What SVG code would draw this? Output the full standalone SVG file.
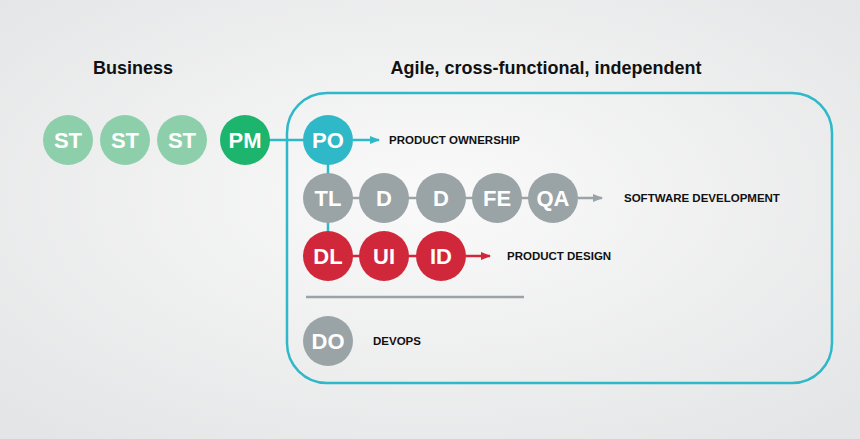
<svg xmlns="http://www.w3.org/2000/svg" width="860" height="439" viewBox="0 0 860 439">
<defs>
<radialGradient id="bg" cx="0.5" cy="0.45" r="0.7"><stop offset="0" stop-color="#fafafa"/><stop offset="1" stop-color="#e4e5e6"/></radialGradient>
<marker id="at" markerWidth="10" markerHeight="10" refX="9" refY="5" orient="auto" markerUnits="userSpaceOnUse"><path d="M0,1 L10,5 L0,9 Z" fill="#2fb8c8"/></marker>
<marker id="ag" markerWidth="10" markerHeight="10" refX="9" refY="5" orient="auto" markerUnits="userSpaceOnUse"><path d="M0,1 L10,5 L0,9 Z" fill="#9aa3a6"/></marker>
<marker id="ar" markerWidth="10" markerHeight="10" refX="9" refY="5" orient="auto" markerUnits="userSpaceOnUse"><path d="M0,1 L10,5 L0,9 Z" fill="#d0283a"/></marker>
<style>
.n text{font-family:"Liberation Sans",Arial,sans-serif;font-weight:bold;font-size:22px;fill:#fff;text-anchor:middle}
.st circle{fill:#8ecfab}.pm circle{fill:#1db46e}.po circle{fill:#2fb8c8}.g circle{fill:#9aa3a6}.r circle{fill:#d0283a}
.lbl{font-family:"Liberation Sans",Arial,sans-serif;font-weight:bold;font-size:11.5px;fill:#111}
.h{font-family:"Liberation Sans",Arial,sans-serif;font-weight:bold;font-size:18px;fill:#111;text-anchor:middle}
</style>
</defs>
<rect width="860" height="439" fill="url(#bg)"/>
<text class="h" x="133" y="74">Business</text>
<text class="h" x="546" y="74">Agile, cross-functional, independent</text>
<rect x="287" y="93" width="545" height="290" rx="40" fill="none" stroke="#2fb8c8" stroke-width="2.5"/>
<line x1="306" y1="297" x2="524" y2="297" stroke="#9aa3a6" stroke-width="2.5"/>
<g id="connectors" stroke-width="2.5" fill="none">
<line x1="245" y1="140" x2="328" y2="140" stroke="#2fb8c8"/>
<line x1="328" y1="140" x2="328" y2="256" stroke="#2fb8c8"/>
<line x1="353" y1="140" x2="379" y2="140" stroke="#2fb8c8" marker-end="url(#at)"/>
<line x1="328" y1="198" x2="553" y2="198" stroke="#9aa3a6"/>
<line x1="578" y1="198" x2="602" y2="198" stroke="#9aa3a6" marker-end="url(#ag)"/>
<line x1="328" y1="256" x2="441" y2="256" stroke="#d0283a"/>
<line x1="466" y1="256" x2="490" y2="256" stroke="#d0283a" marker-end="url(#ar)"/>
</g>
<g id="st1" class="n st"><circle cx="68" cy="140" r="25"/><text x="68" y="148">ST</text></g>
<g id="st2" class="n st"><circle cx="125" cy="140" r="25"/><text x="125" y="148">ST</text></g>
<g id="st3" class="n st"><circle cx="182" cy="140" r="25"/><text x="182" y="148">ST</text></g>
<g id="pm" class="n pm"><circle cx="245" cy="140" r="25"/><text x="245" y="148">PM</text></g>
<g id="po" class="n po"><circle cx="328" cy="140" r="25"/><text x="328" y="148">PO</text></g>
<g id="tl" class="n g"><circle cx="328" cy="198" r="25"/><text x="328" y="206">TL</text></g>
<g id="d1" class="n g"><circle cx="384" cy="198" r="25"/><text x="384" y="206">D</text></g>
<g id="d2" class="n g"><circle cx="441" cy="198" r="25"/><text x="441" y="206">D</text></g>
<g id="fe" class="n g"><circle cx="497" cy="198" r="25"/><text x="497" y="206">FE</text></g>
<g id="qa" class="n g"><circle cx="553" cy="198" r="25"/><text x="553" y="206">QA</text></g>
<g id="dl" class="n r"><circle cx="328" cy="256" r="25"/><text x="328" y="264">DL</text></g>
<g id="ui" class="n r"><circle cx="384" cy="256" r="25"/><text x="384" y="264">UI</text></g>
<g id="id" class="n r"><circle cx="441" cy="256" r="25"/><text x="441" y="264">ID</text></g>
<g id="do" class="n g"><circle cx="328" cy="341" r="25"/><text x="328" y="349">DO</text></g>
<text class="lbl" x="389" y="144">PRODUCT OWNERSHIP</text>
<text class="lbl" x="624" y="202">SOFTWARE DEVELOPMENT</text>
<text class="lbl" x="507" y="260">PRODUCT DESIGN</text>
<text class="lbl" x="373" y="345">DEVOPS</text>
</svg>
